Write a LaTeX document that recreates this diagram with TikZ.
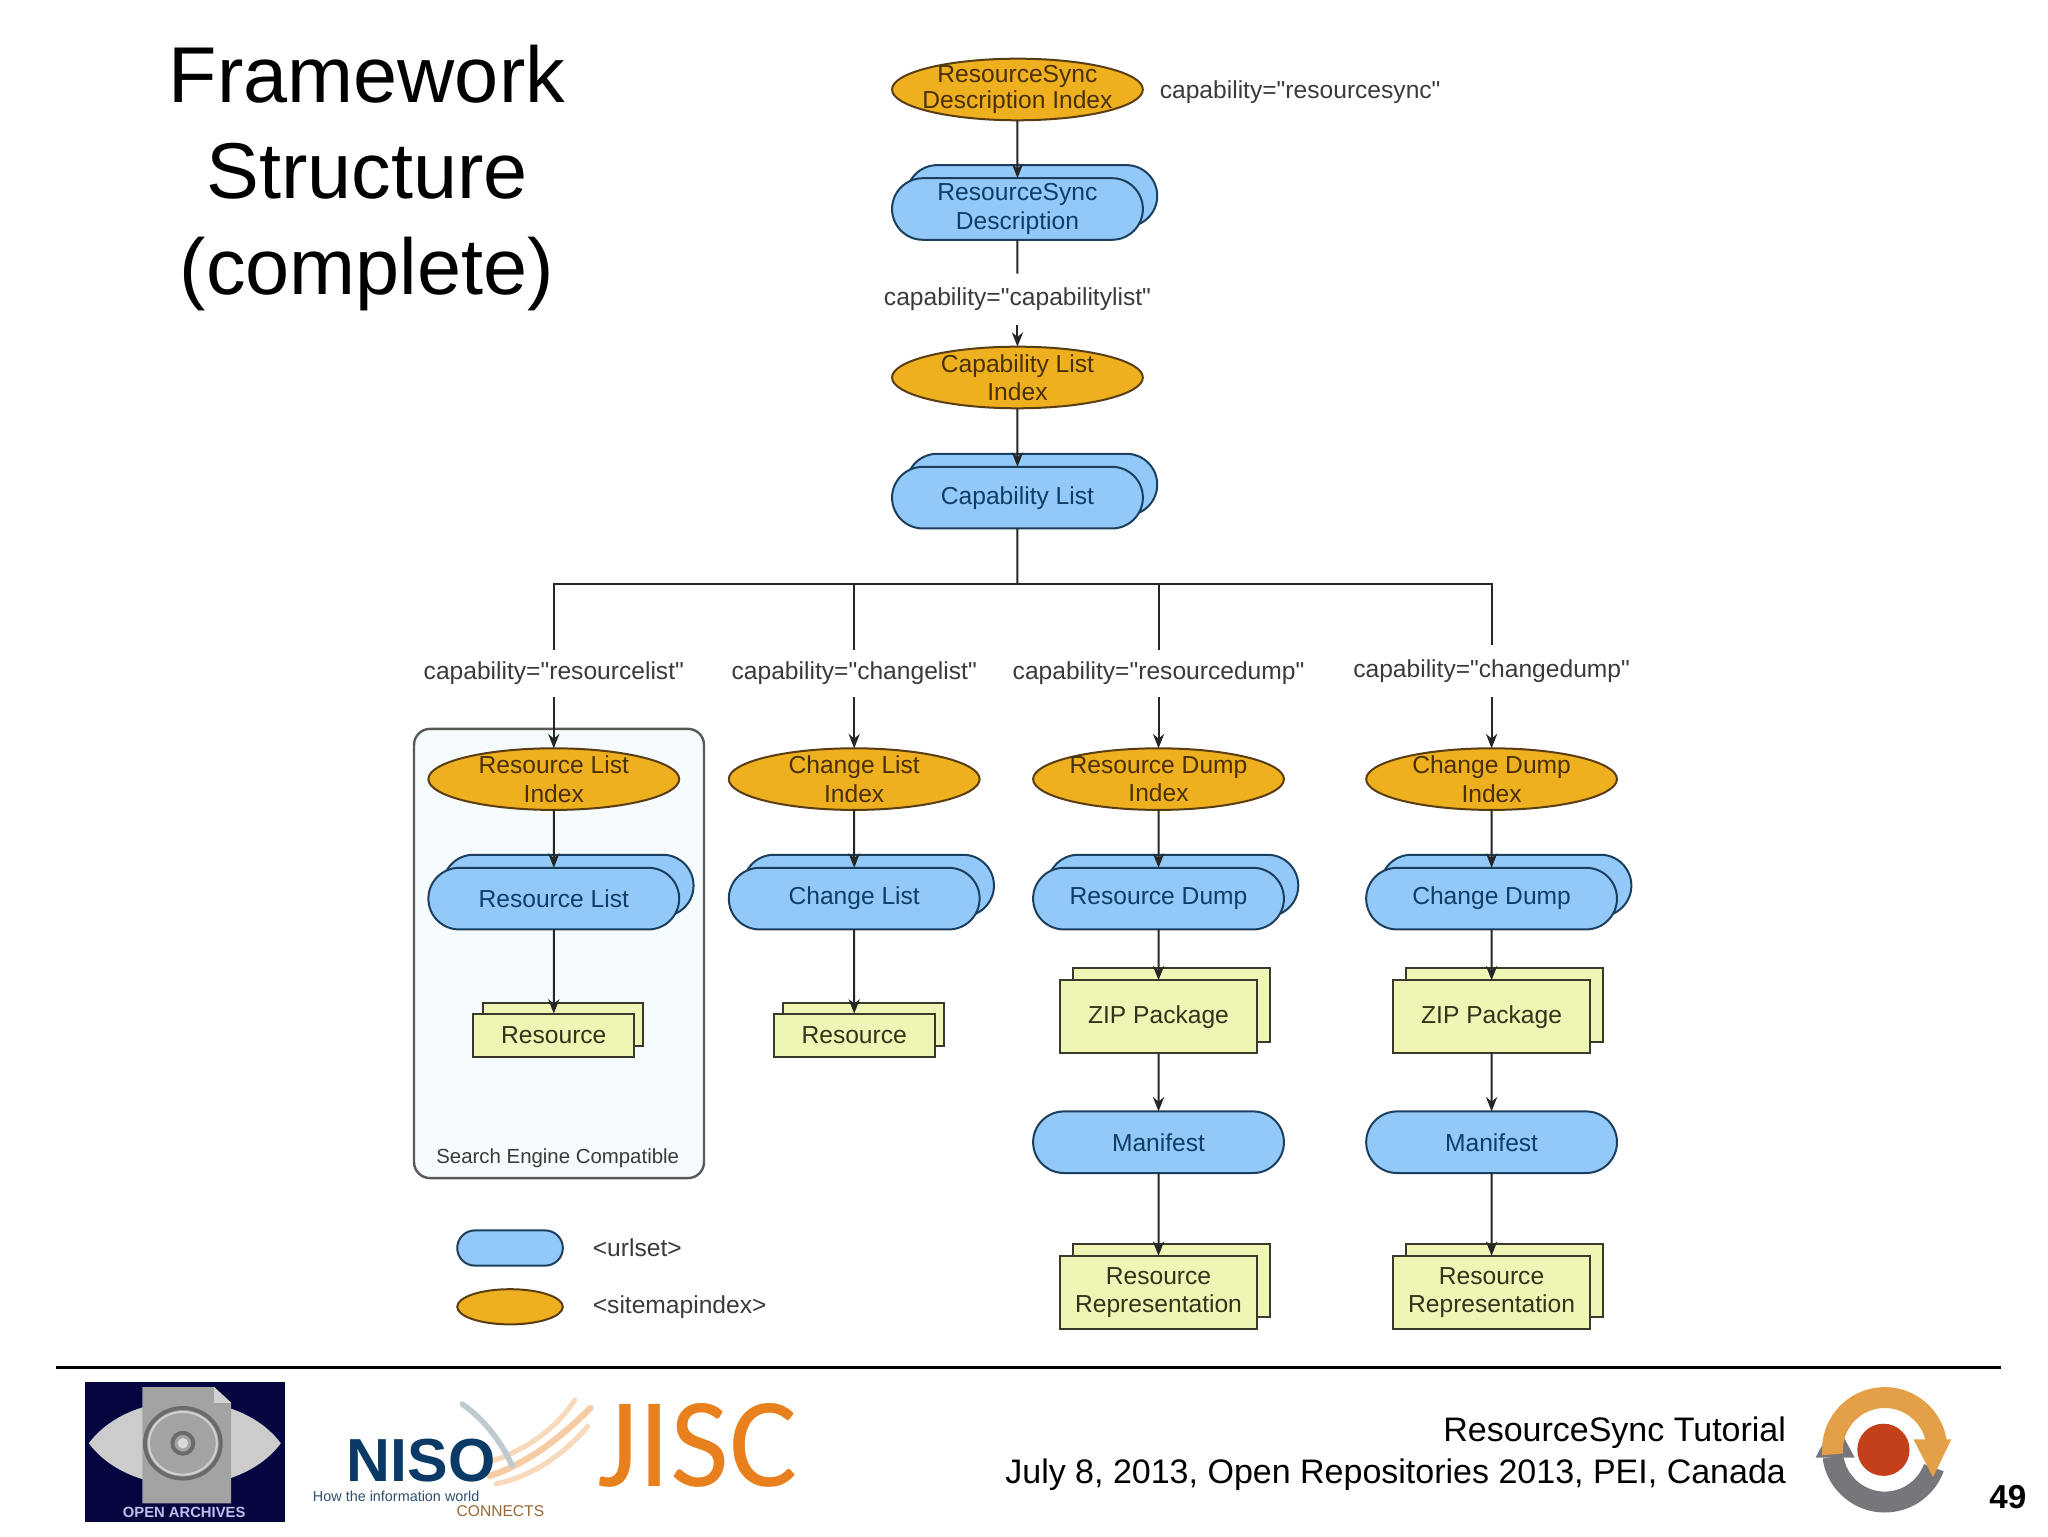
\documentclass[tikz,border=0pt]{standalone}
\usepackage{fontspec}
\setmainfont{Liberation Sans}[Ligatures=TeXOff]
\newfontfamily\jiscfont{Carlito}
\usetikzlibrary{positioning,shapes.geometric,shapes.misc,arrows.meta}
\definecolor{idxfill}{HTML}{EEB01E}
\definecolor{idxline}{HTML}{5A3D12}
\definecolor{idxtext}{HTML}{4A3008}
\definecolor{urlfill}{HTML}{93C9F8}
\definecolor{urlline}{HTML}{1B3F5F}
\definecolor{urltext}{HTML}{0F3D66}
\definecolor{resfill}{HTML}{EFF5B5}
\definecolor{resline}{HTML}{3A3A2A}
\definecolor{restext}{HTML}{33331A}
\definecolor{boxfill}{HTML}{F6FBFE}
\definecolor{labtext}{HTML}{3A3A3A}
\definecolor{jisc}{HTML}{E8801E}
\definecolor{niso}{HTML}{0B3A66}
\definecolor{oainavy}{HTML}{05053F}
\definecolor{logoorange}{HTML}{E3A048}
\definecolor{logogray}{HTML}{77767A}
\definecolor{logored}{HTML}{C4401A}

\begin{document}
\begin{tikzpicture}[x=0.32653pt, y=-0.32653pt, >={Stealth[length=3.6pt,width=2.8pt]},
  diagtext/.style={font=\fontsize{6.15}{7.1}\selectfont, align=center, inner sep=0, outer sep=0},
  idx/.style={diagtext, draw=idxline, fill=idxfill, text=idxtext, line width=0.5pt, ellipse, inner xsep=-9pt, inner ysep=-6pt, minimum width=62.7pt, minimum height=15.4pt},
  urlset/.style={diagtext, draw=urlline, fill=urlfill, text=urltext, line width=0.5pt, rounded rectangle, minimum width=62.7pt, minimum height=15.4pt},
  res/.style={diagtext, draw=resline, fill=resfill, text=restext, line width=0.5pt, rectangle, minimum width=40.2pt, minimum height=10.8pt},
  bigres/.style={res, minimum width=49.3pt, minimum height=18.3pt},
  caplabel/.style={diagtext, text=labtext, minimum height=13pt},
  conn/.style={line width=0.5pt, black!85},
  title/.style={font=\fontsize{19.8}{24}\selectfont, align=center, inner sep=0},
  footer/.style={font=\fontsize{8.5}{10}\selectfont, inner sep=0, anchor=base east}]
\useasboundingbox (0,0) rectangle (1568,1176);

\node[title] (title) at (281,136) {Framework\\Structure\\(complete)};

\node[draw=black!65, fill=boxfill, line width=0.6pt, rounded corners=4pt, minimum width=72.5pt, minimum height=112.3pt, inner sep=0] (sebox) at (428,730) {};
\node[diagtext, text=labtext, font=\fontsize{5.1}{6.5}\selectfont] (selabel) at (427,887) {Search Engine Compatible};

\node[idx, font=\fontsize{6.15}{6.6}\selectfont] (rsdi) at (779,68.5) {ResourceSync\\Description Index};
\node[diagtext, text=labtext, anchor=west] (lblrs) at (888,70.5) {capability="resourcesync"};
\node[urlset] (rsdb) at (790,150) {};
\node[urlset] (rsd) at (779,160) {ResourceSync\\Description};
\node[caplabel, minimum height=12.7pt] (lblcl) at (779,229) {capability="capabilitylist"};
\node[idx] (cli) at (779,289) {Capability List\\Index};
\node[urlset] (clb) at (790,371) {};
\node[urlset] (cl) at (779,381) {Capability List};
\coordinate (bus) at (779,447);

\node[caplabel, minimum height=11.75pt] (lblrl) at (424,515.5) {capability="resourcelist"};
\node[caplabel, minimum height=11.75pt] (lblchl) at (654,515.5) {capability="changelist"};
\node[caplabel, minimum height=11.75pt] (lblrd) at (887,515.5) {capability="resourcedump"};
\node[caplabel, minimum height=13pt] (lblchd) at (1142,513.5) {capability="changedump"};

\node[idx] (rli) at (424,596.5) {Resource List\\Index};
\node[urlset] (rlb) at (435,678) {};
\node[urlset] (rl) at (424,688) {Resource List};
\node[res] (rb) at (431,784.5) {};
\node[res] (r) at (424,792.5) {Resource};

\node[idx] (chli) at (654,596.5) {Change List\\Index};
\node[urlset] (chlb) at (665,678) {};
\node[urlset] (chl) at (654,688) {Change List};
\node[res] (chrb) at (661,784.5) {};
\node[res] (chr) at (654,792.5) {Resource};

\node[idx] (rdi) at (887,596.5) {Resource Dump\\Index};
\node[urlset] (rdb) at (898,678) {};
\node[urlset] (rd) at (887,688) {Resource Dump};
\node[bigres] (rzb) at (897,769.5) {};
\node[bigres] (rz) at (887,778.5) {ZIP Package};
\node[urlset] (rm) at (887,874.5) {Manifest};
\node[bigres] (rrb) at (897,980.5) {};
\node[bigres] (rr) at (887,989.5) {Resource\\Representation};

\node[idx] (chdi) at (1142,596.5) {Change Dump\\Index};
\node[urlset] (chdb) at (1153,678) {};
\node[urlset] (chd) at (1142,688) {Change Dump};
\node[bigres] (czb) at (1152,769.5) {};
\node[bigres] (cz) at (1142,778.5) {ZIP Package};
\node[urlset] (cm) at (1142,874.5) {Manifest};
\node[bigres] (crb) at (1152,980.5) {};
\node[bigres] (cr) at (1142,989.5) {Resource\\Representation};

\path[conn,->] (rsdi) edge (rsd);
\path[conn,-] (rsd) edge (lblcl);
\path[conn,->] (lblcl) edge (cli);
\path[conn,->] (cli) edge (cl);
\path[conn,-] (cl) edge (bus);
\draw[conn] (bus) -| (lblrl.north);
\draw[conn] (bus) -| (lblchl.north);
\draw[conn] (bus) -| (lblrd.north);
\draw[conn] (bus) -| (lblchd.north);
\path[conn,->] (lblrl) edge (rli);
\path[conn,->] (lblchl) edge (chli);
\path[conn,->] (lblrd) edge (rdi);
\path[conn,->] (lblchd) edge (chdi);
\path[conn,->] (rli) edge (rl);
\path[conn,->] (rl) edge (r);
\path[conn,->] (chli) edge (chl);
\path[conn,->] (chl) edge (chr);
\path[conn,->] (rdi) edge (rd);
\path[conn,->] (rd) edge (rz);
\path[conn,->] (rz) edge (rm);
\path[conn,->] (rm) edge (rr);
\path[conn,->] (chdi) edge (chd);
\path[conn,->] (chd) edge (cz);
\path[conn,->] (cz) edge (cm);
\path[conn,->] (cm) edge (cr);

\node[urlset, minimum width=26.4pt, minimum height=8.8pt] (legurl) at (390.5,955.5) {};
\node[idx, minimum width=26.4pt, minimum height=8.8pt] (legidx) at (390.5,1000.5) {};
\node[diagtext, text=labtext, anchor=west, right=7.5pt of legurl] (legurltxt) {<urlset>};
\node[diagtext, text=labtext, anchor=west, right=7.5pt of legidx] (legidxtxt) {<sitemapindex>};

\draw[line width=0.7pt, black] (43,1047) -- (1532,1047);

\fill[oainavy] (65,1058) rectangle (218,1165);
\fill[black!20] (68,1105) .. controls (100,1062) and (183,1062) .. (215,1105) .. controls (183,1148) and (100,1148) .. cycle;
\fill[black!36] (109,1062) -- (164,1062) -- (177,1074) -- (177,1151) -- (109,1151) -- cycle;
\fill[black!18] (164,1062) -- (164,1074) -- (177,1074) -- cycle;
\draw[black!58, line width=1pt] (140,1105) ellipse (29 and 27);
\draw[black!18, line width=0.5pt] (140,1105) ellipse (26 and 24);
\draw[black!58, line width=1pt] (140,1105) ellipse (8 and 8);
\fill[black!15] (140,1105) ellipse (4 and 4);
\node[font=\bfseries\fontsize{3.7}{4}\selectfont, text=black!30!blue!25!white, inner sep=0] (oai) at (141,1158) {OPEN ARCHIVES};

\draw[jisc!40, line width=1.6pt, line cap=round] (375,1130) .. controls (405,1120) and (430,1100) .. (452,1078);
\draw[jisc!30, line width=1.3pt, line cap=round] (372,1120) .. controls (400,1112) and (425,1095) .. (440,1072);
\draw[jisc!30, line width=1.3pt, line cap=round] (380,1136) .. controls (410,1130) and (435,1110) .. (450,1092);
\draw[cyan!30!black!30, line width=1.4pt, line cap=round] (354,1075) .. controls (368,1085) and (382,1100) .. (392,1122);
\node[font=\bfseries\fontsize{15.2}{16}\selectfont, text=niso, inner sep=0, anchor=base west] (nisotxt) at (265,1134) {NISO};
\node[font=\fontsize{3.6}{4}\selectfont, text=niso!70!gray, inner sep=0, anchor=west] (nisosub) at (239,1146) {How the information world};
\node[font=\fontsize{3.9}{4}\selectfont, text=brown!80!black, inner sep=0, anchor=west] (nisocon) at (349,1157) {CONNECTS};
\node[font=\jiscfont\fontsize{32}{33}\selectfont, text=jisc, inner sep=0, anchor=base west] (jisctxt) at (457,1138) {JISC};

\node[footer] (ftop) at (1368,1104) {ResourceSync Tutorial};
\node[footer] (fbot) at (1368,1136) {July 8, 2013, Open Repositories 2013, PEI, Canada};
\node[font=\bfseries\fontsize{8.3}{9}\selectfont, inner sep=0, anchor=base east] (pageno) at (1552,1155) {49};

\begin{scope}[shift={(1443,1110)}]
\fill[logogray] (172:48) arc[start angle=172, end angle=20, radius=48] -- (20:32) arc[start angle=20, end angle=172, radius=32] -- cycle;
\fill[logogray] (-53,6) -- (-38,-22) -- (-23,6) -- cycle;
\fill[logoorange] (175:48) arc[start angle=175, end angle=355, radius=48] -- (355:32) arc[start angle=355, end angle=175, radius=32] -- cycle;
\fill[logoorange] (22,-8) -- (51,-8) -- (37,21) -- cycle;
\fill[logored] (-1,0) circle (20);
\end{scope}
\end{tikzpicture}
\end{document}
